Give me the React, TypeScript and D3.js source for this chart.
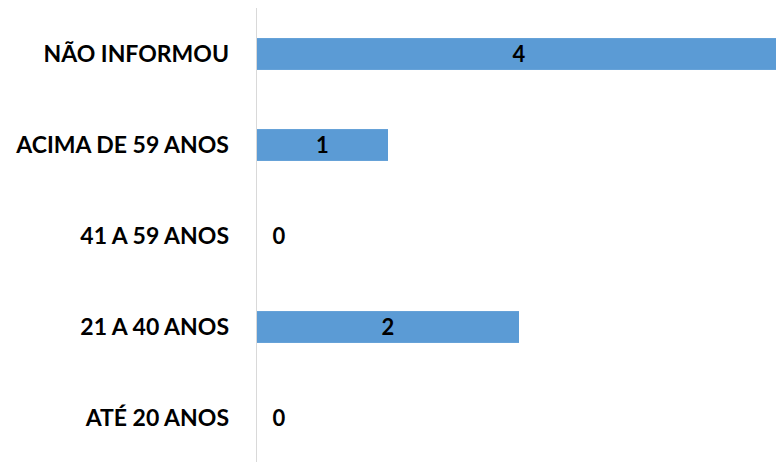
import React, { useEffect, useRef } from 'react';
import * as d3 from 'd3';

const categories = ['NÃO INFORMOU', 'ACIMA DE 59 ANOS', '41 A 59 ANOS', '21 A 40 ANOS', 'ATÉ 20 ANOS'];
const values = [4, 1, 0, 2, 0];

const App = () => {
  const svgRef = useRef<SVGSVGElement>(null);
  const width = 776;
  const height = 462;

  useEffect(() => {
    document.body.style.margin = '0';
    const svg = d3.select(svgRef.current);
    svg.selectAll('*').remove();

    const font = 'Lato, "Open Sans", sans-serif';

    // 4 runs past the right edge, like the original
    const x = d3.scaleLinear().domain([0, 4]).range([257, 781]);
    const y = d3.scaleBand().domain(categories).range([8.5, 463.5]).paddingInner(0.65).paddingOuter(0.325);

    const data = categories.map((c, i) => ({ cat: c, value: values[i] }));

    // bars
    svg.selectAll('.bar')
      .data(data)
      .enter().append('rect')
      .attr('class', 'bar')
      .attr('x', x(0))
      .attr('y', d => y(d.cat)!)
      .attr('width', d => x(d.value) - x(0))
      .attr('height', y.bandwidth())
      .attr('fill', '#5b9bd5');

    // vertical axis line
    svg.append('line')
      .attr('x1', x(0) - 0.5)
      .attr('x2', x(0) - 0.5)
      .attr('y1', 8)
      .attr('y2', height)
      .attr('stroke', '#d9d9d9')
      .attr('stroke-width', 1);

    // category labels
    svg.selectAll('.cat')
      .data(data)
      .enter().append('text')
      .attr('x', 229)
      .attr('y', d => y(d.cat)! + y.bandwidth() / 2)
      .attr('dy', '0.36em')
      .attr('text-anchor', 'end')
      .style('font-family', font)
      .style('font-weight', 'bold')
      .style('font-size', '23px')
      .style('fill', '#000')
      .text(d => d.cat);

    // value labels
    svg.selectAll('.val')
      .data(data)
      .enter().append('text')
      .attr('x', d => d.value > 0 ? (x(0) + x(d.value)) / 2 : x(0) + 22)
      .attr('y', d => y(d.cat)! + y.bandwidth() / 2)
      .attr('dy', '0.36em')
      .attr('text-anchor', 'middle')
      .style('font-family', font)
      .style('font-weight', 'bold')
      .style('font-size', '22px')
      .style('fill', '#000')
      .text(d => d.value);
  }, []);

  return <svg ref={svgRef} width={width} height={height} style={{ display: 'block', background: '#fff' }}></svg>;
};

export default App;
